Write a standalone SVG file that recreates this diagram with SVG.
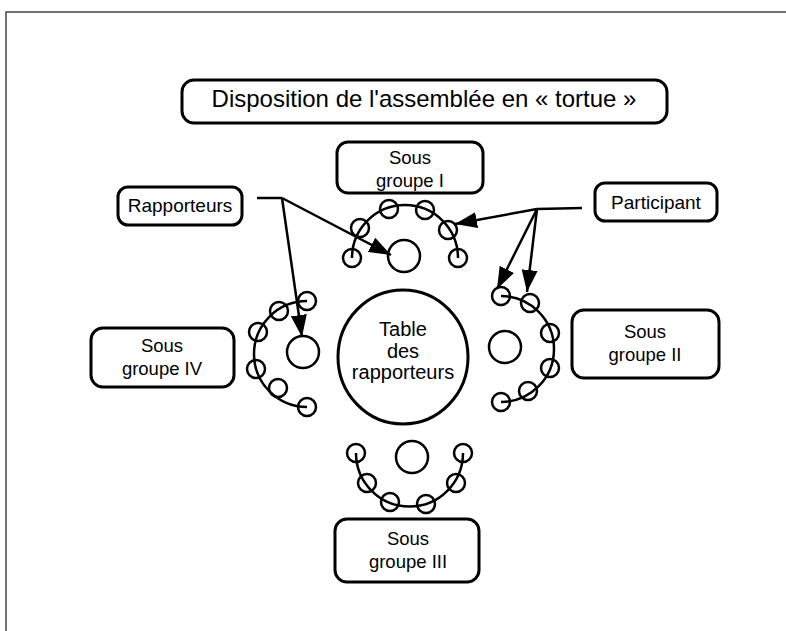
<svg xmlns="http://www.w3.org/2000/svg" width="786" height="631" viewBox="0 0 786 631">
<style>
.box{fill:#fff;stroke:#000;stroke-width:3}
.seat{fill:none;stroke:#000;stroke-width:2.5}
.rep{fill:#fff;stroke:#000;stroke-width:2.5}
.arc{fill:none;stroke:#000;stroke-width:2.5}
.ln{fill:none;stroke:#000;stroke-width:2.5}
text{font-family:"Liberation Sans",Arial,sans-serif;fill:#000;text-anchor:middle}
.lbl{font-size:18.5px}
</style>
<defs>
<marker id="ah" viewBox="0 0 22 16" refX="22" refY="8" markerWidth="22" markerHeight="16" markerUnits="userSpaceOnUse" orient="auto">
<path d="M0,0 L22,8 L0,16 Z" fill="#000"/>
</marker>
</defs>
<rect width="786" height="631" fill="#fff"/>
<path d="M6,631 L6,12 L786,12" fill="none" stroke="#444" stroke-width="1.5"/>

<g id="title">
<rect class="box" x="182" y="80" width="485" height="43" rx="12"/>
<text x="424" y="107" style="font-size:24px">Disposition de l'assemblée en « tortue »</text>
</g>

<g id="table">
<ellipse cx="403" cy="357" rx="65" ry="67" fill="#fff" stroke="#000" stroke-width="3"/>
<text x="403" y="336" style="font-size:20px">Table</text>
<text x="403" y="358" style="font-size:20px">des</text>
<text x="403" y="379" style="font-size:20px">rapporteurs</text>
</g>

<g id="sous-groupe-1">
<rect class="box" x="337" y="142" width="146" height="51" rx="11"/>
<text class="lbl" x="410" y="164">Sous</text>
<text class="lbl" x="410" y="187">groupe I</text>
<path class="arc" d="M352,258 A53,53 0 0 1 458,258"/>
<circle class="rep" cx="404" cy="256" r="16"/>
<circle class="seat" cx="389" cy="209" r="9"/>
<circle class="seat" cx="425" cy="210" r="9"/>
<circle class="seat" cx="360" cy="228" r="9"/>
<circle class="seat" cx="448" cy="230" r="9"/>
<circle class="seat" cx="352" cy="258" r="9"/>
<circle class="seat" cx="458" cy="258" r="9"/>
</g>

<g id="sous-groupe-2">
<rect class="box" x="572" y="310" width="147" height="68" rx="12"/>
<text class="lbl" x="645" y="338">Sous</text>
<text class="lbl" x="645" y="361">groupe II</text>
<path class="arc" d="M501,296 A53,53 0 0 1 501,402"/>
<circle class="rep" cx="505" cy="347" r="16"/>
<circle class="seat" cx="501" cy="296" r="9"/>
<circle class="seat" cx="530" cy="303" r="9"/>
<circle class="seat" cx="550" cy="333" r="9"/>
<circle class="seat" cx="550" cy="368" r="9"/>
<circle class="seat" cx="528" cy="391" r="9"/>
<circle class="seat" cx="501" cy="402" r="9"/>
</g>

<g id="sous-groupe-3">
<rect class="box" x="335" y="519" width="144" height="63" rx="12"/>
<text class="lbl" x="408" y="545">Sous</text>
<text class="lbl" x="408" y="568">groupe III</text>
<path class="arc" d="M356,453 A53,53 0 0 0 463,453"/>
<circle class="rep" cx="412" cy="457" r="16"/>
<circle class="seat" cx="356" cy="453" r="9"/>
<circle class="seat" cx="463" cy="453" r="9"/>
<circle class="seat" cx="367" cy="483" r="9"/>
<circle class="seat" cx="456" cy="483" r="9"/>
<circle class="seat" cx="390" cy="502" r="9"/>
<circle class="seat" cx="426" cy="504" r="9"/>
</g>

<g id="sous-groupe-4">
<rect class="box" x="91" y="328" width="143" height="59" rx="12"/>
<text class="lbl" x="162" y="352">Sous</text>
<text class="lbl" x="162" y="375">groupe IV</text>
<path class="arc" d="M307,301 A53,53 0 0 0 307,407"/>
<circle class="rep" cx="303" cy="352" r="16"/>
<circle class="seat" cx="307" cy="301" r="9"/>
<circle class="seat" cx="279" cy="311" r="9"/>
<circle class="seat" cx="258" cy="332" r="9"/>
<circle class="seat" cx="256" cy="369" r="9"/>
<circle class="seat" cx="278" cy="388" r="9"/>
<circle class="seat" cx="307" cy="407" r="9"/>
</g>

<g id="rapporteurs">
<rect class="box" x="118" y="187" width="124" height="38" rx="10"/>
<text class="lbl" x="180" y="212" style="font-size:19px">Rapporteurs</text>
</g>

<g id="participant">
<rect class="box" x="595" y="183" width="122" height="38" rx="10"/>
<text class="lbl" x="656" y="209" style="font-size:19px">Participant</text>
</g>

<g id="connectors">
<path class="ln" d="M257,198 L282,198"/>
<path class="ln" d="M282,198 L391,255" marker-end="url(#ah)"/>
<path class="ln" d="M282,198 L302,337" marker-end="url(#ah)"/>
<path class="ln" d="M582,208 L537,209"/>
<path class="ln" d="M537,209 L455,224" marker-end="url(#ah)"/>
<path class="ln" d="M537,209 L497,289" marker-end="url(#ah)"/>
<path class="ln" d="M537,209 L527,292" marker-end="url(#ah)"/>
</g>
</svg>
